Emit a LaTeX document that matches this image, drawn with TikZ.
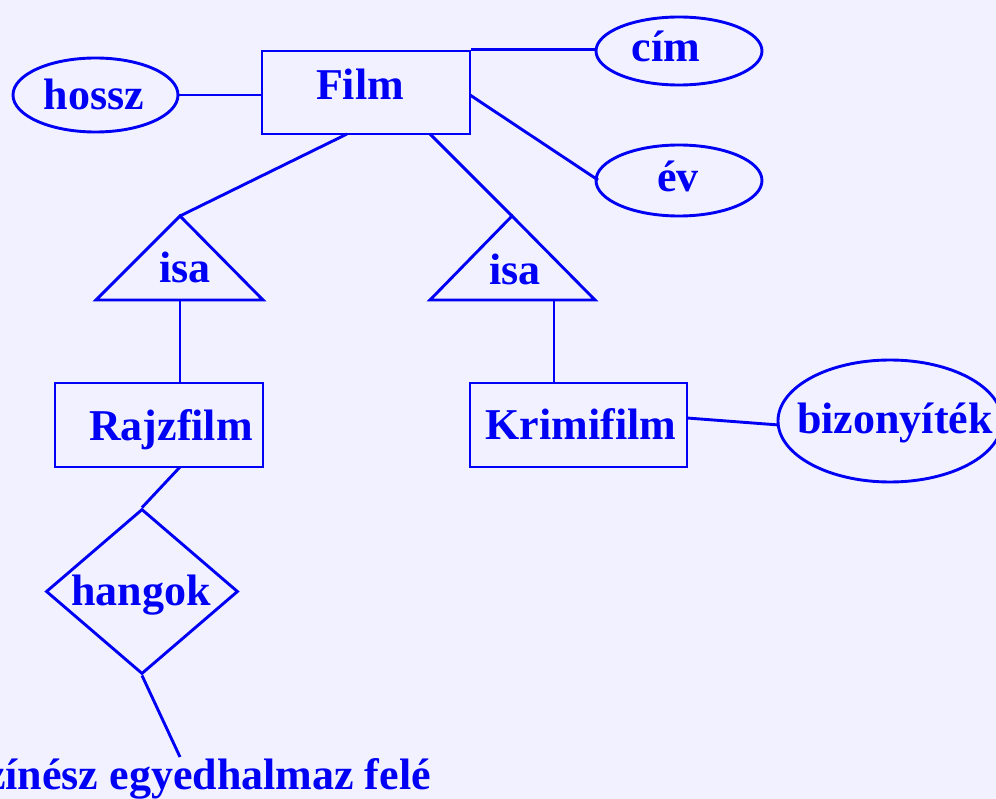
\documentclass[tikz,border=0pt]{standalone}
\usepackage{fontspec}
\setmainfont{Liberation Serif}
\usetikzlibrary{shapes.geometric}
\definecolor{bg}{RGB}{241,241,255}
\definecolor{ink}{RGB}{0,0,245}
\tikzset{
  ent/.style={draw=ink, line width=2.9pt, rectangle, inner sep=0pt},
  attr/.style={draw=ink, line width=2.9pt, ellipse, inner sep=0pt},
  rel/.style={draw=ink, line width=2.9pt, diamond, inner sep=0pt},
  lbl/.style={text=ink, font=\fontsize{44}{44}\selectfont\bfseries, anchor=base, inner sep=0pt},
  conn/.style={draw=ink, line width=2.9pt},
}
\begin{document}
\begin{tikzpicture}[x=1pt,y=-1pt]
\fill[bg] (0,0) rectangle (996,799);
\clip (0,0) rectangle (996,799);
\useasboundingbox (0,0) rectangle (996,799);
% entities
\node[ent, minimum width=208pt, minimum height=83pt] (Film) at (366,92.5) {};
\node[lbl] (FilmT) at (360,100) {Film};
\node[ent, minimum width=208pt, minimum height=84pt] (Rajz) at (159,425) {};
\node[lbl] (RajzT) at (171,440) {Rajzfilm};
\node[ent, minimum width=217pt, minimum height=84pt] (Krimi) at (578.5,425) {};
\node[lbl] (KrimiT) at (581,439) {Krimifilm};
% attributes
\node[attr, minimum width=165pt, minimum height=74pt] (hossz) at (95.5,95) {};
\node[lbl] (hosszT) at (94,110) {hossz};
\node[attr, minimum width=166pt, minimum height=68pt] (cim) at (679,51) {};
\node[lbl] (cimT) at (666,62) {cím};
\node[attr, minimum width=166pt, minimum height=71pt] (ev) at (679,180.5) {};
\node[lbl] (evT) at (678,192) {év};
\node[attr, minimum width=224pt, minimum height=122pt] (biz) at (890,421) {};
\node[lbl] (bizT) at (895,433) {bizonyíték};
% relationship
\node[rel, minimum width=192pt, minimum height=165pt] (hang) at (142,591.5) {};
\node[lbl] (hangT) at (141,605) {hangok};
% isa triangles
\coordinate (triLapex) at (180,216);
\coordinate (triLbase) at (180,300);
\coordinate (triRapex) at (512,216);
\coordinate (triRbase) at (554,300);
\draw[conn] (triLapex) -- (96,300) -- (263,300) -- cycle;
\draw[conn] (triRapex) -- (430,300) -- (595,300) -- cycle;
\node[lbl] (isaL) at (185,283) {isa};
\node[lbl] (isaR) at (515,285) {isa};
% connector endpoints
\coordinate (fa) at (347,134);
\coordinate (fb) at (430,134);
\coordinate (rajzTop) at (180,383);
\coordinate (rajzBot) at (180,467);
\coordinate (krimiTop) at (554,383);
\coordinate (krimiE) at (687,418);
\coordinate (bizW) at (779,425);
\coordinate (filmE) at (470,95);
\coordinate (evW) at (598,180);
\coordinate (toSz) at (180,757);
% connectors
\draw[conn] (hossz.east) -- (hossz.east -| Film.west);
\draw[conn] (Film.north east) -- (Film.north east -| cim.west);
\draw[conn] (filmE) -- (evW);
\draw[conn] (fa) -- (triLapex);
\draw[conn] (fb) -- (triRapex);
\draw[conn] (triLbase) -- (rajzTop);
\draw[conn] (triRbase) -- (krimiTop);
\draw[conn] (krimiE) -- (bizW);
\draw[conn] (rajzBot) -- (hang.north);
\draw[conn] (hang.south) -- (toSz);
\node[lbl, anchor=base east] (szT) at (431,789) {Színész egyedhalmaz felé};
\end{tikzpicture}
\end{document}
